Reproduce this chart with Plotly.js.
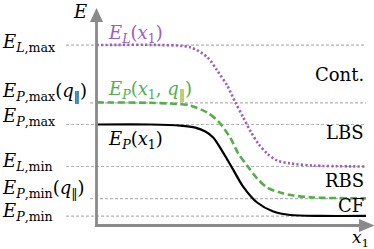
<!DOCTYPE html>
<html>
<head>
<meta charset="utf-8">
<script src="https://cdn.plot.ly/plotly-3.0.1.min.js"></script>
<style>
html,body{margin:0;padding:0;background:#fff;}
#chart{width:374px;height:249px;}
</style>
</head>
<body>
<div id="chart"></div>
<script>
// ---- data (x1 in arbitrary units, E in units of E_L,max) ----
const blackX = [0.000, 0.200, 0.311, 0.367, 0.404, 0.433, 0.470, 0.507, 0.544, 0.596, 0.656, 0.719, 0.830, 1.000];
const blackE = [0.558, 0.558, 0.552, 0.541, 0.519, 0.486, 0.403, 0.309, 0.215, 0.127, 0.077, 0.058, 0.053, 0.053];

const greenX = [0.000, 0.200, 0.293, 0.348, 0.411, 0.452, 0.496, 0.526, 0.559, 0.596, 0.633, 0.681, 0.730, 0.804, 1.000];
const greenE = [0.680, 0.678, 0.672, 0.663, 0.624, 0.575, 0.486, 0.398, 0.331, 0.260, 0.210, 0.182, 0.166, 0.155, 0.150];

const purpleX = [0.000, 0.237, 0.348, 0.411, 0.448, 0.485, 0.515, 0.544, 0.574, 0.600, 0.633, 0.670, 0.719, 0.804, 1.000];
const purpleE = [0.997, 0.997, 0.985, 0.930, 0.856, 0.773, 0.681, 0.598, 0.514, 0.453, 0.398, 0.359, 0.343, 0.331, 0.326];

const levelLabels = [
  '<i>E</i><sub><i>L</i>,max</sub>',
  '<i>E</i><sub><i>P</i>,max</sub>(<i>q</i><sub>‖</sub>)',
  '<i>E</i><sub><i>P</i>,max</sub>',
  '<i>E</i><sub><i>L</i>,min</sub>',
  '<i>E</i><sub><i>P</i>,min</sub>(<i>q</i><sub>‖</sub>)',
  '<i>E</i><sub><i>P</i>,min</sub>'
];
const levelValues = [0.997, 0.677, 0.558, 0.326, 0.149, 0.052];

const curveLabels = [
  '<i>E</i><sub><i>L</i></sub>(<i>x</i><sub>1</sub>)',
  '<i>E</i><sub><i>P</i></sub>(<i>x</i><sub>1</sub>, <i>q</i><sub>‖</sub>)',
  '<i>E</i><sub><i>P</i></sub>(<i>x</i><sub>1</sub>)'
];
const regionLabels = ['Cont.', 'LBS', 'RBS', 'CF'];
const axisLabels = ['<i>x</i><sub>1</sub>', '<i>E</i>'];

// ---- layout helpers (pixel -> data) ----
const X = p => (p - 96.5) / 269.5;
const Y = p => (225.5 - p) / 181;

const PURPLE = '#a05cbf', GREEN = '#52b048', GRAYL = '#b4b4b4', AXIS = '#8a8a8a';
const FONT = 'DejaVu Serif';

// guide line starting pixels (labels end there)
const lineStartPx = [66, 90, 66, 66, 90, 66];

const traces = [];
levelValues.forEach((v, i) => {
  traces.push({x: [X(lineStartPx[i]), X(366)], y: [v, v], mode: 'lines',
    line: {color: GRAYL, width: 1.2, dash: '3px,2px'}, hoverinfo: 'skip', showlegend: false});
});
traces.push({x: purpleX, y: purpleE, mode: 'lines',
  line: {color: PURPLE, width: 2.6, dash: '2.2px,2.2px', shape: 'spline', smoothing: 0.8}, showlegend: false});
traces.push({x: greenX, y: greenE, mode: 'lines',
  line: {color: GREEN, width: 2.6, dash: '7px,3.5px', shape: 'spline', smoothing: 0.8}, showlegend: false});
traces.push({x: blackX, y: blackE, mode: 'lines',
  line: {color: '#000', width: 2.2, shape: 'spline', smoothing: 0.8}, showlegend: false});

const labelShift = [2, 11, 8, 4, 10, 4];
const annotations = [];
levelLabels.forEach((t, i) => {
  annotations.push({x: X(0), y: levelValues[i], xref: 'x', yref: 'y', text: t, showarrow: false,
    xanchor: 'left', yanchor: 'middle', yshift: labelShift[i], font: {family: FONT, size: 18, color: '#000'}});
});
const curveColors = [PURPLE, GREEN, '#000'];
const curveLabelY = [33, 88.5, 138.5];
curveLabels.forEach((t, i) => {
  annotations.push({x: X(106), y: Y(curveLabelY[i] + 1), xref: 'x', yref: 'y', text: t, showarrow: false,
    xanchor: 'left', yanchor: 'middle', font: {family: FONT, size: 18, color: curveColors[i]}});
});
const regionY = [74, 132, 180, 205];
regionLabels.forEach((t, i) => {
  annotations.push({x: X(366), y: Y(regionY[i]), xref: 'x', yref: 'y', text: t, showarrow: false,
    xanchor: 'right', yanchor: 'middle', font: {family: FONT, size: 18, color: '#000'}});
});
annotations.push({x: X(371), y: Y(238), xref: 'x', yref: 'y', text: axisLabels[0], showarrow: false,
  xanchor: 'right', yanchor: 'middle', font: {family: FONT, size: 17, color: '#000'}});
annotations.push({x: X(80), y: Y(11), xref: 'x', yref: 'y', text: axisLabels[1], showarrow: false,
  xanchor: 'center', yanchor: 'middle', font: {family: FONT, size: 18, color: '#000'}});

const P = (px, py) => X(px) + ',' + Y(py);
const shapes = [
  {type: 'line', xref: 'x', yref: 'y', x0: X(96.5), y0: Y(227), x1: X(96.5), y1: Y(20),
    line: {color: AXIS, width: 2.8}, layer: 'above'},
  {type: 'line', xref: 'x', yref: 'y', x0: X(95.1), y0: Y(225.5), x1: X(362), y1: Y(225.5),
    line: {color: AXIS, width: 2.8}, layer: 'above'},
  {type: 'path', xref: 'x', yref: 'y', path: 'M' + P(90, 22) + 'L' + P(103, 22) + 'L' + P(96.5, 8) + 'Z',
    fillcolor: AXIS, line: {width: 0}, layer: 'above'},
  {type: 'path', xref: 'x', yref: 'y', path: 'M' + P(359, 219) + 'L' + P(359, 232) + 'L' + P(374.5, 225.5) + 'Z',
    fillcolor: AXIS, line: {width: 0}, layer: 'above'}
];

const layout = {
  width: 374, height: 249,
  margin: {l: 0, r: 0, t: 0, b: 0, pad: 0},
  paper_bgcolor: '#fff', plot_bgcolor: '#fff',
  font: {family: FONT},
  xaxis: {range: [X(0), X(374)], visible: false, fixedrange: true},
  yaxis: {range: [Y(249), Y(0)], visible: false, fixedrange: true},
  showlegend: false,
  annotations: annotations,
  shapes: shapes
};
Plotly.newPlot('chart', traces, layout, {staticPlot: true, displayModeBar: false});
</script>
</body>
</html>
